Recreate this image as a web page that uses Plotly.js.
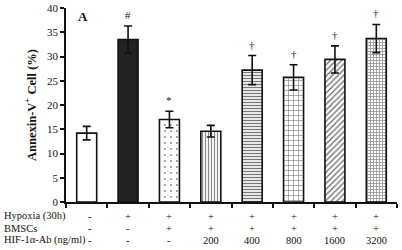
<!DOCTYPE html>
<html>
<head>
<meta charset="utf-8">
<script src="https://cdn.plot.ly/plotly-3.0.1.min.js"></script>
<style>html,body{margin:0;padding:0;background:#fff;}#chart{width:402px;height:250px;}</style>
</head>
<body>
<div id="chart"></div>
<script>
const categories = ["Control", "Hypoxia", "BMSCs", "Ab200", "Ab400", "Ab800", "Ab1600", "Ab3200"];
const values = [14.2, 33.5, 17.0, 14.6, 27.2, 25.7, 29.4, 33.7];
const errors = [1.4, 2.8, 1.7, 1.2, 3.0, 2.6, 2.8, 2.9];
const marks = ["", "#", "*", "", "\u2020", "\u2020", "\u2020", "\u2020"];
const hypoxiaRow = ["-", "+", "+", "+", "+", "+", "+", "+"];
const bmscRow = ["-", "-", "+", "+", "+", "+", "+", "+"];
const hifRow = ["-", "-", "-", "200", "400", "800", "1600", "3200"];
const rowLabels = ["Hypoxia (30h)", "BMSCs", "HIF-1\u03b1-Ab (ng/ml)"];
const yTicks = [0, 5, 10, 15, 20, 25, 30, 35, 40];

const FONT = "Liberation Serif, Times New Roman, serif";

const fills = ["#ffffff", "#222222", "#ffffff", "#ffffff", "#ffffff", "#ffffff", "#ffffff", "#ffffff"];
const pShape = ["", "", ".", "|", "-", "+", "/", "+"];
const pSize = [8, 8, 6, 3, 3, 5, 4, 3];
const pSolid = [0.3, 0.3, 0.08, 0.4, 0.45, 0.2, 0.3, 0.5];
const pFg = ["#000000", "#000000", "#888888", "#888888", "#777777", "#666666", "#666666", "#999999"];

const traces = categories.map((c, i) => {
  const marker = {color: fills[i], line: {color: "#111", width: 1.6}};
  if (pShape[i]) {
    marker.pattern = {shape: pShape[i], size: pSize[i], solidity: pSolid[i], fgcolor: pFg[i], bgcolor: fills[i]};
  }
  return {
    type: "bar", x: [c], y: [values[i]], width: 0.483,
    error_y: {type: "data", array: [errors[i]], visible: true, color: "#111", thickness: 1.6, width: 4},
    marker: marker, hoverinfo: "none"
  };
});

const annotations = [];
categories.forEach((c, i) => {
  if (marks[i]) {
    annotations.push({x: c, y: values[i] + errors[i], xref: "x", yref: "y", text: marks[i],
      showarrow: false, yanchor: "middle", yshift: 11, font: {family: FONT, size: 11, color: "#222"}});
  }
});
const rowsY = [216, 228, 240];
const rows = [hypoxiaRow, bmscRow, hifRow];
rows.forEach((row, r) => {
  const yp = 1 - (rowsY[r] - 8) / 194;
  annotations.push({x: 0, xref: "paper", xshift: -63, y: yp, yref: "paper", text: rowLabels[r],
    showarrow: false, xanchor: "left", yanchor: "middle", borderpad: 0,
    font: {family: FONT, size: 10.5, color: "#111"}});
  row.forEach((v, i) => {
    annotations.push({x: categories[i], xref: "x", y: yp, yref: "paper", text: v,
      showarrow: false, xanchor: "center", yanchor: "middle", xshift: (i === 0 ? 3 : 0), borderpad: 0,
      font: {family: FONT, size: 10.5, color: "#111"}});
  });
});
annotations.push({x: categories[0], xref: "x", xshift: -4, y: 38.3, yref: "y", text: "<b>A</b>",
  showarrow: false, xanchor: "center", yanchor: "middle", font: {family: FONT, size: 13, color: "#111"}});

const layout = {
  width: 402, height: 250,
  margin: {l: 66, r: 5, t: 8, b: 48},
  paper_bgcolor: "#fff", plot_bgcolor: "#fff",
  showlegend: false,
  barmode: "overlay",
  font: {family: FONT, size: 11, color: "#111"},
  xaxis: {
    type: "category", categoryorder: "array", categoryarray: categories,
    range: [-0.5, 7.5], tickson: "boundaries",
    ticks: "outside", ticklen: 4, tickwidth: 1.5, tickcolor: "#111",
    showticklabels: false, showline: true, linecolor: "#111", linewidth: 1.5,
    showgrid: false, zeroline: false, fixedrange: true
  },
  yaxis: {
    range: [0, 40], tickvals: yTicks, ticktext: yTicks.map(String),
    ticks: "outside", ticklen: 4, tickwidth: 1.5, tickcolor: "#111",
    showline: true, linecolor: "#111", linewidth: 1.5, showgrid: false, zeroline: false,
    tickfont: {family: FONT, size: 11, color: "#111"},
    title: {text: "<b>Annexin-V<sup>+</sup> Cell (%)</b>", font: {family: FONT, size: 12.5, color: "#111"}, standoff: 8},
    fixedrange: true
  },
  annotations: annotations
};

Plotly.newPlot("chart", traces, layout, {displayModeBar: false});
</script>
</body>
</html>
